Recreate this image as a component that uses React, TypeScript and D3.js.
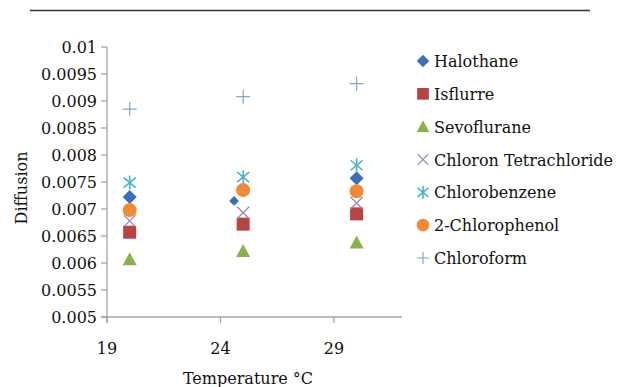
import React from "react";
import * as d3 from "d3";

const temps = [20, 25, 30];
const seriesNames = ["Halothane", "Isflurre", "Sevoflurane", "Chloron Tetrachloride", "Chlorobenzene", "2-Chlorophenol", "Chloroform"];
const halothane = [0.00722, 0.00715, 0.00757];
const halothaneX = [20, 24.6, 30];
const isflurre = [0.00657, 0.00672, 0.00691];
const sevoflurane = [0.00607, 0.00622, 0.00638];
const chloronTetra = [0.00678, 0.00693, 0.00711];
const chlorobenzene = [0.00749, 0.00759, 0.00781];
const chlorophenol = [0.00698, 0.00735, 0.00733];
const chloroform = [0.00885, 0.00908, 0.00932];
const yTicks = [0.005, 0.0055, 0.006, 0.0065, 0.007, 0.0075, 0.008, 0.0085, 0.009, 0.0095, 0.01];
const xTicks = [19, 24, 29];

const colors = ["#3d6fb6", "#b84343", "#8cb04a", "#9a86b8", "#4bb3c9", "#ef8a38", "#86a3dc"];
const symbolTypes = ["diamond", "square", "triangle", "x", "asterisk", "circle", "plus"];

const FONT = "'DejaVu Serif', serif";
const FS = 16;

function Marker({ type, x, y, color, s = 1 }: { type: string; x: number; y: number; color: string; s?: number }) {
  switch (type) {
    case "diamond":
      return <path d={`M${x},${y - 7 * s}L${x + 7 * s},${y}L${x},${y + 7 * s}L${x - 7 * s},${y}Z`} fill={color} />;
    case "square":
      return <rect x={x - 6.5 * s} y={y - 6.5 * s} width={13 * s} height={13 * s} fill={color} />;
    case "triangle":
      return <path d={`M${x},${y - 7 * s}L${x + 7 * s},${y + 6 * s}L${x - 7 * s},${y + 6 * s}Z`} fill={color} />;
    case "x":
      return <path d={`M${x - 6 * s},${y - 6 * s}L${x + 6 * s},${y + 6 * s}M${x + 6 * s},${y - 6 * s}L${x - 6 * s},${y + 6 * s}`} stroke={color} strokeWidth={1.3} fill="none" />;
    case "asterisk":
      return <path d={`M${x},${y - 7 * s}L${x},${y + 7 * s}M${x - 6 * s},${y - 5 * s}L${x + 6 * s},${y + 5 * s}M${x + 6 * s},${y - 5 * s}L${x - 6 * s},${y + 5 * s}`} stroke={color} strokeWidth={1.6} fill="none" />;
    case "circle":
      return <circle cx={x} cy={y} r={7 * s} fill={color} />;
    case "plus":
      return <path d={`M${x},${y - 7 * s}L${x},${y + 7 * s}M${x - 7 * s},${y}L${x + 7 * s},${y}`} stroke={color} strokeWidth={1.2} fill="none" />;
  }
  return null;
}

export default function App() {
  const W = 617, H = 387;
  const x = d3.scaleLinear().domain([19, 32]).range([107, 402]);
  const y = d3.scaleLinear().domain([0.005, 0.01]).range([317, 47]);
  const fmt = (v: number) => String(+v.toFixed(4));
  const data = [halothane, isflurre, sevoflurane, chloronTetra, chlorobenzene, chlorophenol, chloroform];
  const xsFor = (i: number) => (i === 0 ? halothaneX : temps);
  const axisColor = "#a6a6a6";
  const legendY = d3.scalePoint().domain(seriesNames).range([61, 258]);

  return (
    <svg width={W} height={H} style={{ position: "absolute", left: 0, top: 0, background: "#fff" }}>
      <line x1={30} x2={590} y1={10.5} y2={10.5} stroke="#333" strokeWidth={1.6} />
      {/* axes */}
      <line x1={x(19)} x2={x(19)} y1={y(0.01)} y2={323} stroke={axisColor} strokeWidth={1.3} />
      <line x1={101} x2={x(32)} y1={y(0.005)} y2={y(0.005)} stroke={axisColor} strokeWidth={1.3} />
      {yTicks.map((t) => (
        <g key={t}>
          <line x1={101} x2={x(19)} y1={y(t)} y2={y(t)} stroke={axisColor} strokeWidth={1.3} />
          <text x={97} y={y(t) + 6} textAnchor="end" fontFamily={FONT} fontSize={FS} fill="#111">{fmt(t)}</text>
        </g>
      ))}
      {xTicks.map((t) => (
        <g key={t}>
          <line x1={x(t)} x2={x(t)} y1={y(0.005)} y2={323} stroke={axisColor} strokeWidth={1.3} />
          <text x={x(t)} y={354} textAnchor="middle" fontFamily={FONT} fontSize={FS} fill="#111">{t}</text>
        </g>
      ))}
      <text x={248} y={384} textAnchor="middle" fontFamily={FONT} fontSize={FS} fill="#111">Temperature °C</text>
      <text transform={`translate(27,188) rotate(-90)`} textAnchor="middle" fontFamily={FONT} fontSize={FS} fill="#111">Diffusion</text>
      {/* points */}
      {data.map((vals, i) =>
        vals.map((v, j) => (
          <Marker key={`${i}-${j}`} type={symbolTypes[i]} x={x(xsFor(i)[j])} y={y(v)} color={colors[i]} s={i === 0 && j === 1 ? 0.7 : 1} />
        ))
      )}
      {/* legend */}
      {seriesNames.map((n, i) => (
        <g key={n}>
          <Marker type={symbolTypes[i]} x={423} y={legendY(n)!} color={colors[i]} s={0.9} />
          <text x={434} y={legendY(n)! + 6} fontFamily={FONT} fontSize={FS} fill="#111">{n}</text>
        </g>
      ))}
    </svg>
  );
}
